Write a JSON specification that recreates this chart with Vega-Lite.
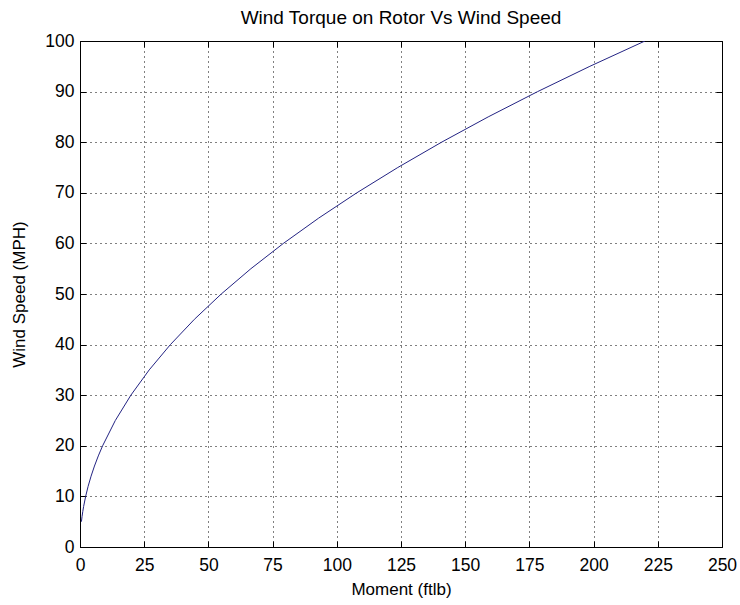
{
  "$schema": "https://vega.github.io/schema/vega-lite/v6.json",
  "autosize": "none",
  "width": 642,
  "height": 506,
  "padding": {"left": 80, "top": 41, "right": 18, "bottom": 58},
  "background": "white",
  "config": {
    "font": "Liberation Sans",
    "view": {"stroke": "black", "strokeWidth": 1},
    "axis": {
      "labelFont": "Liberation Sans",
      "titleFont": "Liberation Sans",
      "labelColor": "black",
      "titleColor": "black",
      "labelFontSize": 17.5,
      "titleFontSize": 17,
      "titleFontWeight": "normal",
      "domain": false,
      "tickColor": "black",
      "tickSize": -6,
      "tickWidth": 1
    },
    "title": {"font": "Liberation Sans", "fontSize": 19, "fontWeight": "normal", "color": "black", "offset": 4}
  },
  "title": "Wind Torque on Rotor Vs Wind Speed",
  "data": {"values": [
    {"moment": 0.55, "speed": 5},
    {"moment": 0.792, "speed": 6},
    {"moment": 1.078, "speed": 7},
    {"moment": 1.408, "speed": 8},
    {"moment": 2.2, "speed": 10},
    {"moment": 3.168, "speed": 12},
    {"moment": 4.312, "speed": 14},
    {"moment": 5.632, "speed": 16},
    {"moment": 7.128, "speed": 18},
    {"moment": 8.8, "speed": 20},
    {"moment": 13.75, "speed": 25},
    {"moment": 19.8, "speed": 30},
    {"moment": 26.95, "speed": 35},
    {"moment": 35.2, "speed": 40},
    {"moment": 44.55, "speed": 45},
    {"moment": 55.0, "speed": 50},
    {"moment": 66.55, "speed": 55},
    {"moment": 79.2, "speed": 60},
    {"moment": 92.95, "speed": 65},
    {"moment": 107.8, "speed": 70},
    {"moment": 123.75, "speed": 75},
    {"moment": 140.8, "speed": 80},
    {"moment": 158.95, "speed": 85},
    {"moment": 178.2, "speed": 90},
    {"moment": 198.55, "speed": 95},
    {"moment": 220.0, "speed": 100}
  ]},
  "layer": [
    {
      "mark": {"type": "line", "color": "#232383", "strokeWidth": 1, "clip": true},
      "encoding": {
        "x": {
          "field": "moment", "type": "quantitative",
          "scale": {"domain": [0, 250], "nice": false, "zero": false},
          "axis": {
            "orient": "bottom", "title": "Moment (ftlb)",
            "values": [0, 25, 50, 75, 100, 125, 150, 175, 200, 225, 250],
            "grid": true, "gridColor": "black", "gridOpacity": 1, "gridDash": [1, 4],
            "labelPadding": 15, "titlePadding": 8, "labelFlush": false
          }
        },
        "y": {
          "field": "speed", "type": "quantitative",
          "scale": {"domain": [0, 100], "nice": false, "zero": false},
          "axis": {
            "orient": "left", "title": "Wind Speed (MPH)",
            "values": [0, 10, 20, 30, 40, 50, 60, 70, 80, 90, 100],
            "grid": true, "gridColor": "black", "gridOpacity": 1, "gridDash": [1, 4],
            "labelPadding": 12, "titlePadding": 16, "labelFlush": false
          }
        }
      }
    },
    {
      "mark": {"type": "line", "opacity": 0},
      "encoding": {
        "x": {
          "field": "moment", "type": "quantitative",
          "axis": {
            "orient": "top", "title": null, "labels": false, "grid": false,
            "values": [0, 25, 50, 75, 100, 125, 150, 175, 200, 225, 250]
          }
        },
        "y": {
          "field": "speed", "type": "quantitative",
          "axis": {
            "orient": "right", "title": null, "labels": false, "grid": false,
            "values": [0, 10, 20, 30, 40, 50, 60, 70, 80, 90, 100]
          }
        }
      }
    }
  ],
  "resolve": {"axis": {"x": "independent", "y": "independent"}}
}
